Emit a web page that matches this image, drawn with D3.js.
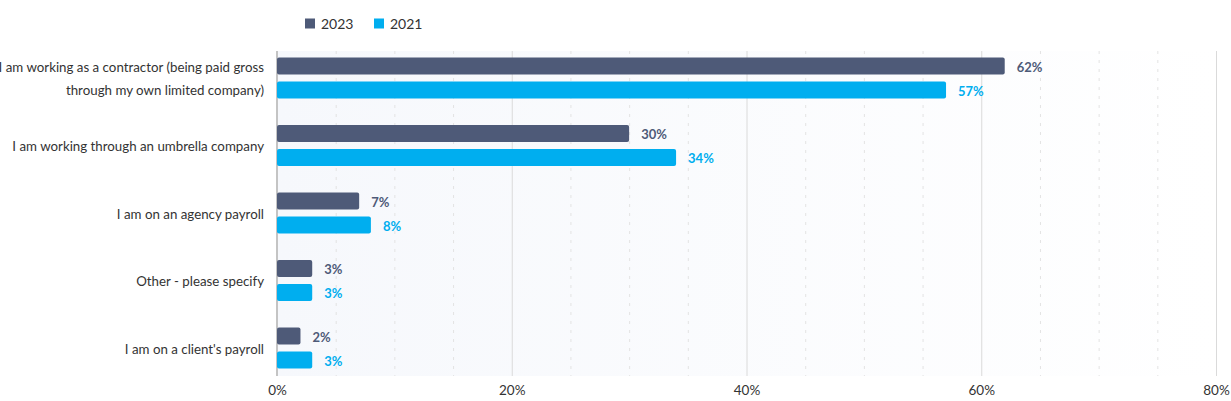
<!DOCTYPE html>
<html>
<head>
<meta charset="utf-8">
<script src="https://cdn.jsdelivr.net/npm/d3@7"></script>
<style>
  body { margin: 0; background: #fff; }
  svg { font-family: Lato, "Noto Sans", sans-serif; }
</style>
</head>
<body>
<div id="chart"></div>
<script>
const categories = [
  "I am working as a contractor (being paid gross|through my own limited company)",
  "I am working through an umbrella company",
  "I am on an agency payroll",
  "Other - please specify",
  "I am on a client's payroll"
];
const series = ["2023", "2021"];
const values2023 = [62, 30, 7, 3, 2];
const values2021 = [57, 34, 8, 3, 3];
const xTicks = [0, 20, 40, 60, 80];

const colors = { "2023": "#4e5a78", "2021": "#00aeef" };

const W = 1231, H = 401;
const plot = { left: 277, right: 1216, top: 51, bottom: 376 };

const svg = d3.select("#chart").append("svg")
  .attr("width", W).attr("height", H);

const defs = svg.append("defs");
const grad = defs.append("linearGradient").attr("id", "bg")
  .attr("x1", "0%").attr("x2", "100%").attr("y1", "0%").attr("y2", "0%");
grad.append("stop").attr("offset", "0%").attr("stop-color", "#f6f8fc");
grad.append("stop").attr("offset", "100%").attr("stop-color", "#ffffff");

const x = d3.scaleLinear().domain([0, 80]).range([plot.left, plot.right]);
const y = d3.scaleBand().domain(d3.range(categories.length))
  .range([44.25, 381.75]);

// plot background
svg.append("rect")
  .attr("x", plot.left).attr("y", plot.top)
  .attr("width", plot.right - plot.left).attr("height", plot.bottom - plot.top)
  .attr("fill", "url(#bg)");

// minor dashed gridlines every 5%
svg.append("g").selectAll("line")
  .data(d3.range(5, 80, 5).filter(v => v % 20 !== 0))
  .enter().append("line")
  .attr("x1", d => x(d) + 0.5).attr("x2", d => x(d) + 0.5)
  .attr("y1", plot.top).attr("y2", plot.bottom)
  .attr("stroke", "#e3e3e3")
  .attr("stroke-dasharray", "3,6");

// major gridlines
svg.append("g").selectAll("line")
  .data(xTicks.slice(1))
  .enter().append("line")
  .attr("x1", d => x(d) + 0.5).attr("x2", d => x(d) + 0.5)
  .attr("y1", plot.top).attr("y2", plot.bottom)
  .attr("stroke", "#dadada");

// x axis labels
const xAxis = svg.append("g")
  .attr("transform", `translate(0,${plot.bottom})`)
  .call(d3.axisBottom(x).tickValues(xTicks).tickFormat(d => d + "%").tickSize(0).tickPadding(9));
xAxis.select(".domain").remove();
xAxis.selectAll("text").attr("fill", "#333").attr("font-size", "13.5px")
  .attr("font-family", "Lato, 'Noto Sans', sans-serif");

// left axis line
svg.append("line")
  .attr("x1", plot.left).attr("x2", plot.left)
  .attr("y1", plot.top).attr("y2", plot.bottom)
  .attr("stroke", "#c4c4c4").attr("stroke-width", 2);

// bars
const barH = 17, gap = 7;
const rows = [];
categories.forEach((c, i) => {
  rows.push({ i, s: "2023", v: values2023[i] });
  rows.push({ i, s: "2021", v: values2021[i] });
});
const barY = d => {
  const c = y(d.i) + y.bandwidth() / 2;
  return d.s === "2023" ? c - gap / 2 - barH : c + gap / 2;
};

svg.append("g").selectAll("rect")
  .data(rows)
  .enter().append("rect")
  .attr("x", plot.left)
  .attr("y", barY)
  .attr("width", d => x(d.v) - plot.left)
  .attr("height", barH)
  .attr("rx", 2)
  .attr("fill", d => colors[d.s]);

svg.append("g").selectAll("text")
  .data(rows)
  .enter().append("text")
  .attr("x", d => x(d.v) + 12)
  .attr("y", d => barY(d) + barH / 2 + 1)
  .attr("dy", "0.35em")
  .attr("font-size", "13px")
  .attr("font-weight", "bold")
  .attr("fill", d => colors[d.s])
  .text(d => d.v + "%");

// category labels
const catG = svg.append("g").selectAll("text")
  .data(categories)
  .enter().append("text")
  .attr("text-anchor", "end")
  .attr("font-size", "13.3px")
  .attr("fill", "#333")
  .attr("y", (d, i) => y(i) + y.bandwidth() / 2 + 1);
catG.each(function (d) {
  const lines = d.split("|");
  const t = d3.select(this);
  lines.forEach((l, k) => {
    t.append("tspan")
      .attr("x", 264)
      .attr("dy", k === 0 ? (0.35 - (lines.length - 1) * 0.86) + "em" : "1.72em")
      .text(l);
  });
});

// legend
const legend = svg.append("g").attr("transform", "translate(305,17)");
series.forEach((s, k) => {
  const g = legend.append("g").attr("transform", `translate(${k * 69},0)`);
  g.append("rect").attr("width", 10).attr("height", 10).attr("y", 1.5).attr("fill", colors[s]);
  g.append("text").attr("x", 16).attr("y", 7).attr("dy", "0.35em")
    .attr("font-size", "14px").attr("fill", "#333").text(s);
});
</script>
</body>
</html>
